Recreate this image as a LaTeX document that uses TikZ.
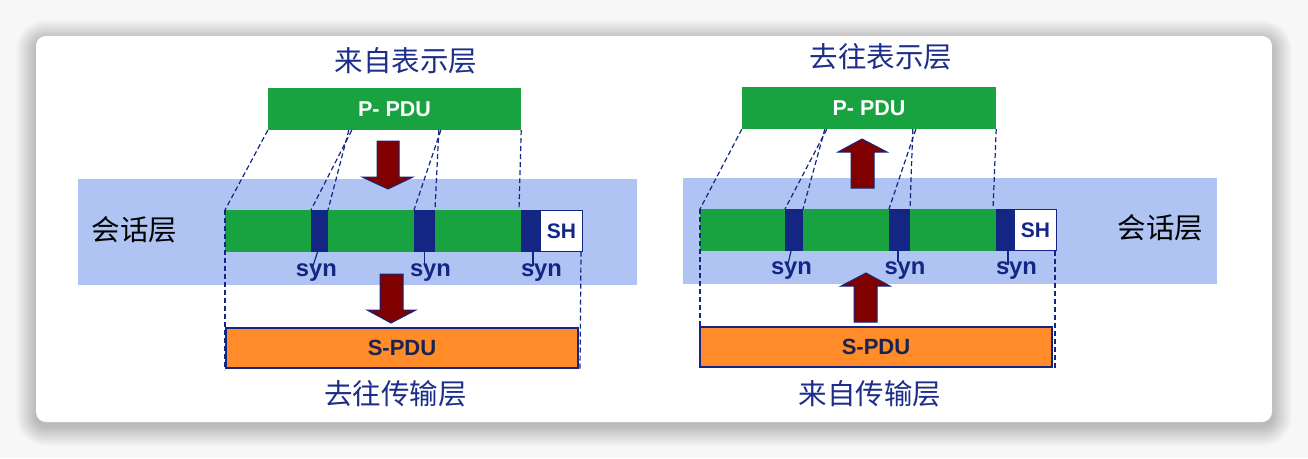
\documentclass[tikz,border=0pt]{standalone}
\usepackage{fontspec}
\setmainfont{Liberation Sans}
\newfontfamily\cjk{Noto Sans CJK SC}
\usetikzlibrary{calc}
\definecolor{pgreen}{RGB}{24,162,64}
\definecolor{band}{RGB}{175,196,242}
\definecolor{navy}{RGB}{20,38,132}
\definecolor{arrowred}{RGB}{128,0,0}
\definecolor{sorange}{RGB}{255,140,40}
\definecolor{headblue}{RGB}{28,46,138}
\definecolor{stext}{RGB}{26,34,80}
\tikzset{
  seg/.style={draw=none,inner sep=0pt,outer sep=0pt,minimum height=42pt},
  gseg/.style={seg,fill=pgreen},
  synseg/.style={seg,fill=navy},
  shbox/.style={seg,fill=white,draw=navy,line width=1.5pt,font=\bfseries\fontsize{21}{24}\selectfont,text=navy},
  pbox/.style={draw=none,fill=pgreen,inner sep=0pt,minimum width=253pt,minimum height=42pt,font=\bfseries\fontsize{21.5}{24}\selectfont,text=white},
  sbox/.style={draw=navy,line width=1.5pt,fill=sorange,inner sep=0pt,minimum width=352pt,minimum height=40pt,font=\bfseries\fontsize{22}{24}\selectfont,text=stext},
  synlab/.style={inner sep=0pt,anchor=base,font=\bfseries\fontsize{23.8}{26}\selectfont,text=navy},
  synline/.style={draw=navy,line width=1.2pt},
  guide/.style={draw=navy,line width=1.2pt,dash pattern=on 5pt off 3pt},
  head/.style={inner sep=0pt,font=\cjk\fontsize{28.5}{32}\selectfont,text=headblue},
  layer/.style={inner sep=0pt,font=\cjk\fontsize{28.5}{32}\selectfont,text=black},
  bigarrow/.style={fill=arrowred,draw=navy,line width=1pt,line join=miter},
}
\begin{document}
\begin{tikzpicture}[x=1pt,y=-1pt]
\useasboundingbox (0,0) rectangle (1308,458);
% background and card shadow
\fill[white!97!black] (0,0) rectangle (1308,458);
\foreach \i in {1,...,20}{
  \fill[black,opacity=0.011,rounded corners={10+\i}] (36-\i,36-\i+4) rectangle (1272+\i,422+\i+4);
}
\fill[white,rounded corners=10] (36,36) rectangle (1272,422);

% ===== left =====
\fill[band] (78,179) rectangle (637,285);
\node[pbox] (ppduL) at (394.5,109) {P- PDU};
\node[gseg,minimum width=86pt] (g1L) at (268,231) {};
\node[synseg,minimum width=17pt] (s1L) at (319.5,231) {};
\node[gseg,minimum width=86pt] (g2L) at (371,231) {};
\node[synseg,minimum width=21pt] (s2L) at (424.5,231) {};
\node[gseg,minimum width=86pt] (g3L) at (478,231) {};
\node[synseg,minimum width=19pt] (s3L) at (530.5,231) {};
\node[shbox,minimum width=42pt,minimum height=41pt] (shL) at (561.5,231) {SH};
\node[sbox] (spduL) at (402,348) {S-PDU};

\node[synlab] (y1L) at (316.5,276) {syn};
\node[synlab] (y2L) at (430.5,276) {syn};
\node[synlab] (y3L) at (541.5,276) {syn};
\draw[synline] ([xshift=-2pt]s1L.south) -- (313,266);
\draw[synline] (s2L.south) -- (424.5,264);
\draw[synline] ([xshift=2.5pt]s3L.south) -- (533,266);

\draw[guide] (ppduL.south west) -- (g1L.north west);
\draw[guide] ([xshift=84pt]ppduL.south west) -- (s1L.north west);
\draw[guide] ([xshift=81pt]ppduL.south west) -- (s1L.north east);
\draw[guide] ([xshift=173pt]ppduL.south west) -- (s2L.north west);
\draw[guide] ([xshift=171pt]ppduL.south west) -- (s2L.north east);
\draw[guide] (ppduL.south east) -- ([xshift=-2pt]g3L.north east);
\coordinate (bL1) at (225,370);
\coordinate (bL2) at (580,370);
\draw[guide] (g1L.north west) -- (bL1);
\draw[guide] ([xshift=-1.5pt]shL.south east) -- (bL2);

\draw[bigarrow] (377,141) -- (399,141) -- (399,177) -- (413,177) -- (388,189) -- (362,177) -- (377,177) -- cycle;
\draw[bigarrow] (380,274) -- (403,274) -- (403,310) -- (416,310) -- (391,323) -- (367,310) -- (380,310) -- cycle;

\node[head] (topL) at (406,61) {来自表示层};
\node[head] (botL) at (395.5,394) {去往传输层};
\node[layer] (layL) at (134.5,230) {会话层};

% ===== right =====
\fill[band] (683,178) rectangle (1217,284);
\node[pbox,minimum width=254pt] (ppduR) at (869,108) {P- PDU};
\node[gseg,minimum width=85pt] (g1R) at (742.5,230) {};
\node[synseg,minimum width=18pt] (s1R) at (794,230) {};
\node[gseg,minimum width=86pt] (g2R) at (846,230) {};
\node[synseg,minimum width=21pt] (s2R) at (899.5,230) {};
\node[gseg,minimum width=86pt] (g3R) at (953,230) {};
\node[synseg,minimum width=18pt] (s3R) at (1005,230) {};
\node[shbox,minimum width=42pt,minimum height=41pt] (shR) at (1035.5,230) {SH};
\node[sbox] (spduR) at (876,347) {S-PDU};

\node[synlab] (y1R) at (791.5,274) {syn};
\node[synlab] (y2R) at (905,274) {syn};
\node[synlab] (y3R) at (1016.5,274) {syn};
\draw[synline] ([xshift=-3pt]s1R.south) -- (788,264);
\draw[synline] ([xshift=-1.5pt]s2R.south) -- (898,262);
\draw[synline] ([xshift=3pt]s3R.south) -- (1008,265);

\draw[guide] (ppduR.south west) -- (g1R.north west);
\draw[guide] ([xshift=85pt]ppduR.south west) -- (s1R.north west);
\draw[guide] ([xshift=83pt]ppduR.south west) -- (s1R.north east);
\draw[guide] ([xshift=174pt]ppduR.south west) -- (s2R.north west);
\draw[guide] ([xshift=171pt]ppduR.south west) -- (s2R.north east);
\draw[guide] (ppduR.south east) -- ([xshift=-3pt]g3R.north east);
\coordinate (bR1) at (700,368);
\coordinate (bR2) at (1055,368);
\draw[guide] (g1R.north west) -- (bR1);
\draw[guide] ([xshift=-1.5pt]shR.south east) -- (bR2);

\draw[bigarrow] (851,188) -- (874,188) -- (874,152) -- (887,152) -- (862,139) -- (838,152) -- (851,152) -- cycle;
\draw[bigarrow] (854,322) -- (877,322) -- (877,286) -- (890,286) -- (866,273) -- (841,286) -- (854,286) -- cycle;

\node[head] (topR) at (881,56.5) {去往表示层};
\node[head] (botR) at (870,393.5) {来自传输层};
\node[layer] (layR) at (1160.5,228) {会话层};
\end{tikzpicture}
\end{document}
